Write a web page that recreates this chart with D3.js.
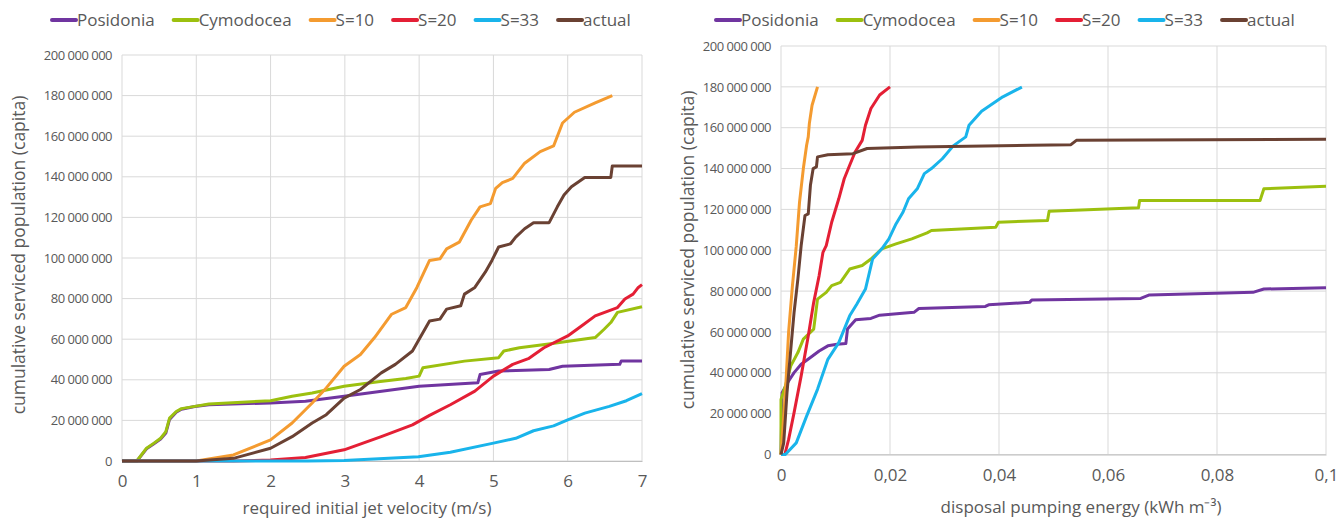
<!doctype html>
<html lang="en">
<head>
  <meta charset="utf-8" />
  <title>Cumulative serviced population</title>
  <script src="https://d3js.org/d3.v7.min.js"></script>
  <style>
    body { margin: 0; background: #fff; }
    svg text { font-family: "Open Sans", sans-serif; fill: #595959; }
  </style>
</head>
<body>
<div id="chart"></div>
<script>
  // series names + colours
  const seriesNames = ["Posidonia", "Cymodocea", "S=10", "S=20", "S=33", "actual"];
  const seriesColors = ["#7035a0", "#9cc00f", "#f49b30", "#e41f35", "#19b4eb", "#6a4133"];

  // tick values
  const yTicks = [0, 20, 40, 60, 80, 100, 120, 140, 160, 180, 200]; // millions
  const velTicks = [0, 1, 2, 3, 4, 5, 6, 7];
  const energyTicks = [0, 0.02, 0.04, 0.06, 0.08, 0.1];

  // left panel: [velocity m/s, population in millions]
  const velPosidonia = [[0,0],[0.2,0],[0.33,6],[0.43,8.5],[0.52,10.8],[0.59,13.8],[0.64,20.5],[0.73,24],[0.8,25.5],[0.98,26.8],[1.17,27.7],[2.0,28.6],[2.47,29.4],[2.99,31.9],[4.0,36.8],[4.79,38.5],[4.82,42.6],[5.07,44.3],[5.75,45.1],[5.93,46.7],[6.7,47.6],[6.72,49.2],[7.0,49.2]];
  const velCymodocea = [[0,0],[0.2,0],[0.33,6.3],[0.43,8.8],[0.52,11.2],[0.59,14.5],[0.64,21.1],[0.73,24.4],[0.8,25.8],[0.98,26.9],[1.17,28.1],[2.0,29.7],[2.29,31.9],[2.56,33.5],[2.99,36.8],[3.45,39],[3.82,40.6],[4.0,41.8],[4.05,45.9],[4.61,49.2],[5.07,50.9],[5.14,54.2],[5.35,55.8],[5.77,57.8],[6.37,60.8],[6.49,64.9],[6.58,68.2],[6.67,73.2],[7.0,76]];
  const velS10 = [[0,0],[1.0,0],[1.5,3],[2.0,10.4],[2.29,18.7],[2.56,28.6],[2.75,36],[2.99,46.7],[3.21,52.5],[3.4,60.8],[3.63,72.3],[3.82,75.6],[3.97,85.5],[4.14,98.8],[4.28,99.6],[4.37,104.5],[4.54,107.8],[4.7,118.6],[4.82,125.2],[4.96,126.8],[5.03,134.3],[5.12,137.1],[5.26,139.2],[5.42,146.7],[5.63,152.4],[5.81,155.2],[5.93,166.5],[6.09,171.8],[6.37,176.4],[6.6,180]];
  const velS20 = [[0,0],[1.5,0],[2.0,0.5],[2.47,1.7],[2.99,5.5],[3.49,12],[3.91,17.8],[4.14,22.5],[4.42,27.7],[4.75,34.4],[5.0,41.8],[5.26,47.6],[5.47,50.4],[5.68,55.8],[6.0,61.6],[6.19,66.6],[6.37,71.5],[6.67,75.6],[6.77,79.8],[6.88,82.2],[6.95,85.5],[7.0,86.9]];
  const velS33 = [[0,0],[2.5,0],[2.99,0.3],[3.99,2.1],[4.42,4.3],[5.0,8.8],[5.3,11.2],[5.54,14.9],[5.81,17.3],[6.0,20.3],[6.23,23.6],[6.56,26.9],[6.79,29.7],[7.0,33.2]];
  const velActual = [[0,0],[1.0,0],[1.5,1.3],[2.0,6.3],[2.29,12],[2.56,18.7],[2.75,22.8],[2.99,31],[3.21,35.2],[3.49,43.4],[3.68,47.6],[3.91,54.2],[4.0,60],[4.14,69],[4.28,69.9],[4.37,74.8],[4.56,76.5],[4.61,82.2],[4.75,85.5],[4.89,93],[4.98,98.8],[5.07,105.4],[5.23,107],[5.3,110.3],[5.42,114.4],[5.54,117.4],[5.75,117.4],[5.86,125.2],[5.95,131],[6.05,135.1],[6.23,139.7],[6.58,139.7],[6.6,145.3],[7.0,145.3]];

  // right panel: [energy kWh/m3, population in millions]
  const enPosidonia = [[0,0],[0.0002,30.3],[0.0014,36],[0.0024,40.1],[0.0037,44.2],[0.0054,47.5],[0.007,50.7],[0.0086,53.2],[0.0103,54],[0.0119,54.3],[0.0122,61.4],[0.0137,66],[0.0165,66.6],[0.0181,68.2],[0.0244,69.6],[0.0253,71.5],[0.0375,72.5],[0.0381,73.3],[0.0456,74.5],[0.046,75.6],[0.066,76.4],[0.0676,78.1],[0.0866,79.4],[0.0886,81],[0.1,81.7]];
  const enCymodocea = [[0,0],[0,27],[0.0008,33.6],[0.0018,43.4],[0.0031,49.9],[0.0041,56.5],[0.006,61.4],[0.0067,76.1],[0.0083,79.4],[0.0093,82.7],[0.0109,84.3],[0.0126,90.8],[0.0149,92.5],[0.0165,95.7],[0.0185,100.7],[0.0211,103.1],[0.024,105.6],[0.0268,108.5],[0.0276,109.7],[0.0394,111.3],[0.0399,113.7],[0.0489,114.6],[0.0492,119.1],[0.0656,120.8],[0.0658,124.4],[0.0879,124.4],[0.0886,130.1],[0.1,131.3]];
  const enS10 = [[0,0],[0.0008,30],[0.0014,60],[0.0021,82.7],[0.0028,102],[0.0034,123.6],[0.0041,140],[0.0047,151.4],[0.005,155.5],[0.0052,162],[0.0057,171],[0.0067,180]];
  const enS20 = [[0,0],[0.0007,0],[0.0014,7.4],[0.0024,20.5],[0.0037,38.5],[0.005,58],[0.006,74.5],[0.007,87.6],[0.0077,99],[0.0083,102.3],[0.0093,113.7],[0.0106,125.2],[0.0116,135],[0.0126,141.6],[0.0136,148.1],[0.0149,153.8],[0.0155,161.2],[0.0165,169.4],[0.0181,176],[0.02,180]];
  const enS33 = [[0,0],[0.0008,0],[0.0028,5.7],[0.0047,18.8],[0.0067,31.9],[0.0086,46.6],[0.0106,54.8],[0.0126,67.9],[0.0139,73.6],[0.0155,81],[0.0168,95.7],[0.0185,100.7],[0.0198,105.6],[0.0211,112.9],[0.0224,118.7],[0.0234,125.2],[0.025,130.1],[0.0263,137.5],[0.0276,140],[0.0296,144.8],[0.0316,151.1],[0.0339,155.5],[0.0345,161.2],[0.0368,168.1],[0.0407,175.1],[0.0442,179.9]];
  const enActual = [[0,0],[0.0005,5.7],[0.0011,30.3],[0.0018,51.6],[0.0024,69.6],[0.0031,86],[0.0037,102.3],[0.0044,117],[0.005,117.8],[0.0054,131.8],[0.0059,140],[0.0065,140.8],[0.0067,145.7],[0.0086,146.8],[0.0132,147.3],[0.0158,149.8],[0.025,150.6],[0.046,151.4],[0.0532,151.7],[0.0542,153.8],[0.1,154.3]];

  const fmt = d3.formatLocale({ decimal: ",", thousands: " ", grouping: [3], currency: ["", ""] });
  const yFmt = d => fmt.format(",")(d * 1e6);

  const svg = d3.select("#chart").append("svg")
    .attr("width", 1340)
    .attr("height", 521);

  function drawPanel(opt) {
    const x = d3.scaleLinear().domain(opt.xDomain).range(opt.xRange);
    const y = d3.scaleLinear().domain([0, 200]).range(opt.yRange);
    const g = svg.append("g");

    // gridlines
    g.selectAll(".hgrid").data(yTicks).enter().append("line")
      .attr("x1", opt.xRange[0]).attr("x2", opt.xRange[1])
      .attr("y1", d => y(d)).attr("y2", d => y(d))
      .attr("stroke", "#d9d9d9").attr("stroke-width", 1);
    g.selectAll(".vgrid").data(opt.xTicks).enter().append("line")
      .attr("x1", d => x(d)).attr("x2", d => x(d))
      .attr("y1", opt.yRange[0]).attr("y2", opt.yRange[1])
      .attr("stroke", "#d9d9d9").attr("stroke-width", 1);

    // y axis
    const ya = g.append("g")
      .attr("transform", `translate(${opt.xRange[0]},0)`)
      .call(d3.axisLeft(y).tickValues(yTicks).tickFormat(yFmt).tickSize(0).tickPadding(10));
    ya.select(".domain").remove();
    ya.selectAll("text").style("font-size", "13px").style("letter-spacing", "-0.5px").attr("fill", "#595959");

    // x axis
    const xa = g.append("g")
      .attr("transform", `translate(0,${opt.yRange[0]})`)
      .call(d3.axisBottom(x).tickValues(opt.xTicks).tickFormat(opt.xFmt).tickSize(0).tickPadding(14));
    xa.select(".domain").attr("stroke", "#bfbfbf");
    xa.selectAll("text").style("font-size", "17px").attr("fill", "#595959");

    // titles
    g.append("text")
      .attr("transform", `translate(${opt.yTitleX},${opt.yTitleY}) rotate(-90)`)
      .attr("text-anchor", "middle")
      .style("font-size", "17.5px")
      .text("cumulative serviced population (capita)");
    g.append("text")
      .attr("x", opt.xTitleX).attr("y", opt.xTitleY)
      .attr("text-anchor", "middle")
      .style("font-size", "17px")
      .text(opt.xTitle);

    // lines
    const line = d3.line().x(d => x(d[0])).y(d => y(d[1]));
    opt.series.forEach((s, i) => {
      g.append("path")
        .datum(s)
        .attr("d", line)
        .attr("fill", "none")
        .attr("stroke", seriesColors[i])
        .attr("stroke-width", 3)
        .attr("stroke-linejoin", "round");
    });

    // legend
    const leg = g.append("g").attr("transform", `translate(${opt.legendX},20)`);
    let cx = 0;
    seriesNames.forEach((name, i) => {
      leg.append("line")
        .attr("x1", cx).attr("x2", cx + 24).attr("y1", 0).attr("y2", 0)
        .attr("stroke", seriesColors[i]).attr("stroke-width", 4).attr("stroke-linecap", "round");
      const t = leg.append("text")
        .attr("x", cx + 25).attr("y", 0).attr("dy", "0.35em")
        .style("font-size", "17px")
        .text(name);
      cx += 25 + t.node().getComputedTextLength() + 19;
    });
  }

  drawPanel({
    xDomain: [0, 7], xRange: [122, 642], yRange: [461, 55],
    xTicks: velTicks, xFmt: d => fmt.format("")(d),
    series: [velPosidonia, velCymodocea, velS10, velS20, velS33, velActual],
    xTitle: "required initial jet velocity (m/s)",
    xTitleX: 367, xTitleY: 514, yTitleX: 25, yTitleY: 255, legendX: 52
  });

  drawPanel({
    xDomain: [0, 0.1], xRange: [781, 1326], yRange: [454.5, 46],
    xTicks: energyTicks, xFmt: d => fmt.format("")(d),
    series: [enPosidonia, enCymodocea, enS10, enS20, enS33, enActual],
    xTitle: "disposal pumping energy (kWh m\u207B\u00B3)",
    xTitleX: 1081, xTitleY: 513, yTitleX: 694, yTitleY: 250, legendX: 716
  });
</script>
</body>
</html>
